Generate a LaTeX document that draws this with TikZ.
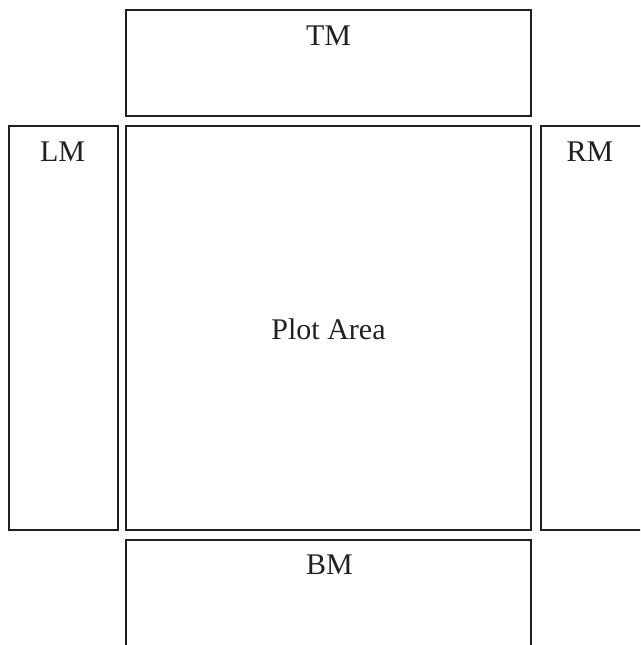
\documentclass[tikz,border=0pt]{standalone}
\usepackage{fontspec}
\setmainfont{Liberation Serif}
\definecolor{ink}{RGB}{35,31,32}

\begin{document}
\begin{tikzpicture}[x=1pt, y=-1pt, line width=2pt,
    panel/.style={draw=ink},
    lbl/.style={text=ink, font=\fontsize{30}{36}\selectfont, inner sep=0pt}]
    \useasboundingbox (0,0) rectangle (640,645);
    \clip (0,0) rectangle (640,645);
    \draw[panel] (126,10) rectangle (531,116);
    \draw[panel] (9,126) rectangle (118,530);
    \draw[panel] (126,126) rectangle (531,530);
    \draw[panel] (541,126) rectangle (645,530);
    \draw[panel] (126,540) rectangle (531,660);
    \node[lbl] (tm) at (328.5,35.5) {TM};
    \node[lbl] (lm) at (62.5,152) {LM};
    \node[lbl] (pa) at (328.5,329) {Plot Area};
    \node[lbl] (rm) at (590,152) {RM};
    \node[lbl] (bm) at (329.5,565) {BM};
    \end{tikzpicture}
\end{document}
